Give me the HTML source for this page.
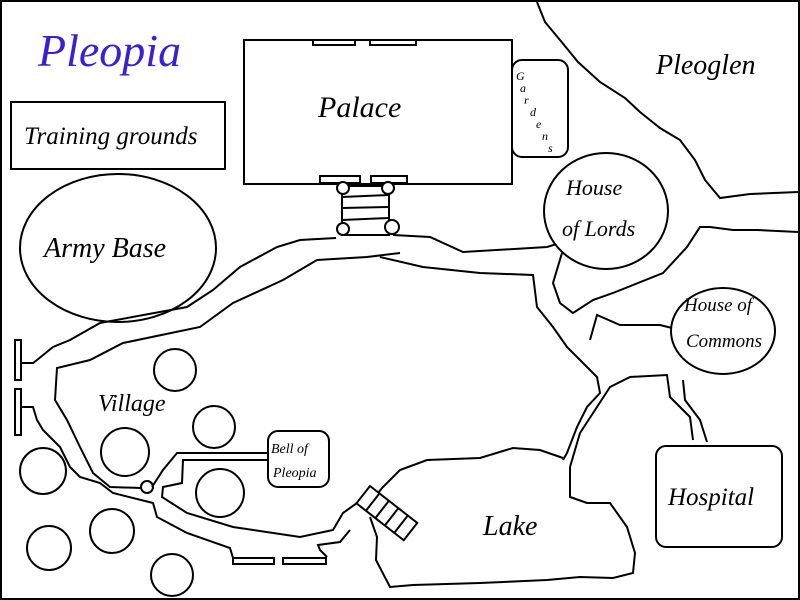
<!DOCTYPE html>
<html><head><style>
html,body{margin:0;padding:0;background:#fff}
svg{display:block}
text{font-family:"Liberation Serif",serif;font-style:italic;fill:#000}
</style></head><body>
<svg width="800" height="600" viewBox="0 0 800 600" xmlns="http://www.w3.org/2000/svg">
<rect x="1" y="1" width="798" height="598" fill="#fff" stroke="#000" stroke-width="2"/>
<g fill="none" stroke="#000" stroke-width="2">
<!-- Pleoglen border -->
<polyline points="537,2 545,22 560,40 578,62 600,82 625,98 640,112 660,128 680,140 695,160 705,180 720,198 750,194 798,192"/>
<!-- roads right -->
<polyline points="562,253 553,283 560,303 573,313 593,300 613,293 663,273 687,247 700,227 710,227 733,230 757,230 798,232"/>
<polyline points="590,340 597,315 620,325 660,325 672,328"/>
<polyline points="570,467 580,433 597,407 610,387 630,377 667,375 670,397 690,417 693,440"/>
<polyline points="683,380 685,400 700,420 707,442"/>
<!-- outer road top -->
<polyline points="336,238 300,240 277,247 240,267 213,290 187,307 100,323 70,340 53,347 37,360 33,363 21,363"/>
<polyline points="393,235 430,237 463,252 547,247 560,243"/>
<polyline points="380,257 423,267 480,273 533,275 537,307 553,327 567,347 597,377 600,393 587,407 577,427 567,453 563,460"/>
<!-- outer road bottom -->
<polyline points="21,407 33,407 37,420 43,430 60,447 70,467 80,477 100,483 113,493 153,503 157,517 187,533 230,548 233,558"/>
<!-- inner village boundary -->
<polyline points="400,253 367,257 317,260 283,280 233,303 200,327 123,343 90,360 57,368 55,400 67,420 80,447 93,473 110,487 141,488"/>
<polyline points="152,487 163,470 177,453 267,453"/>
<polyline points="267,460 183,460 182,483 163,487 162,497 187,513 233,527 300,537 333,530 343,513 357,503"/>
<polyline points="327,557 320,550 318,545 340,542 350,530"/>
<!-- lake -->
<path d="M563,458 L540,450 L513,448 L480,458 L427,460 L400,470 L383,487 L372,500 M370,517 L377,537 L376,560 L390,587 L413,585 L480,583 L547,580 L580,577 L613,578 L633,573 L635,553 L627,527 L610,503 L587,503 L570,497 L570,467"/>
</g>
<g fill="none" stroke="#000" stroke-width="2">
<rect x="11" y="102" width="214" height="67"/>
<ellipse cx="118" cy="248" rx="98" ry="74"/>
<rect x="244" y="40" width="268" height="144"/>
<rect x="313" y="40" width="42" height="5"/>
<rect x="370" y="40" width="46" height="5"/>
<rect x="320" y="176" width="40" height="7"/>
<rect x="371" y="176" width="36" height="7"/>
<rect x="342" y="186" width="47" height="49" fill="#fff"/>
<line x1="342" y1="197" x2="389" y2="195"/><line x1="342" y1="208" x2="389" y2="207"/><line x1="342" y1="220" x2="389" y2="218"/>
<circle cx="343" cy="188" r="6" fill="#fff"/><circle cx="388" cy="188" r="6" fill="#fff"/>
<circle cx="343" cy="229" r="6" fill="#fff"/><circle cx="392" cy="227" r="7" fill="#fff"/>
<rect x="512" y="60" width="56" height="97" rx="10" fill="#fff"/>
<ellipse cx="606" cy="211" rx="62" ry="58" fill="#fff"/>
<ellipse cx="723" cy="331" rx="52" ry="43" fill="#fff"/>
<rect x="656" y="446" width="126" height="101" rx="10" fill="#fff"/>
<rect x="268" y="431" width="61" height="56" rx="10" fill="#fff"/>
<circle cx="175" cy="370" r="21"/><circle cx="214" cy="427" r="21"/><circle cx="125" cy="452" r="24"/>
<circle cx="43" cy="471" r="23"/><circle cx="220" cy="493" r="24"/><circle cx="112" cy="531" r="22"/>
<circle cx="49" cy="548" r="22"/><circle cx="172" cy="575" r="21"/><circle cx="147" cy="487" r="6"/>
<rect x="15" y="340" width="6" height="40"/><rect x="15" y="389" width="6" height="46"/>
<rect x="233" y="558" width="41" height="6"/><rect x="283" y="558" width="43" height="6"/>
<g transform="translate(370,486) rotate(38)">
<rect x="0" y="0" width="60" height="22" fill="#fff"/>
<line x1="12" y1="0" x2="12" y2="22"/><line x1="24" y1="0" x2="24" y2="22"/><line x1="36" y1="0" x2="36" y2="22"/><line x1="48" y1="0" x2="48" y2="22"/>
</g>
</g>
<text x="38" y="66" font-size="46" style="fill:#3a1fd6">Pleopia</text>
<text x="24" y="144" font-size="25">Training grounds</text>
<text x="44" y="257" font-size="28">Army Base</text>
<text x="318" y="117" font-size="30">Palace</text>
<text x="656" y="74" font-size="28">Pleoglen</text>
<text font-size="12"><tspan x="516" y="80">G</tspan><tspan x="520" y="92">a</tspan><tspan x="524" y="104">r</tspan><tspan x="530" y="116">d</tspan><tspan x="536" y="128">e</tspan><tspan x="542" y="140">n</tspan><tspan x="548" y="152">s</tspan></text>
<text x="566" y="195" font-size="22">House</text>
<text x="562" y="236" font-size="22">of Lords</text>
<text x="684" y="311" font-size="19">House of</text>
<text x="686" y="347" font-size="19">Commons</text>
<text x="668" y="505" font-size="25">Hospital</text>
<text x="98" y="411" font-size="24">Village</text>
<text x="271" y="453" font-size="14">Bell of</text>
<text x="273" y="477" font-size="14">Pleopia</text>
<text x="483" y="535" font-size="28">Lake</text>
</svg>
</body></html>
